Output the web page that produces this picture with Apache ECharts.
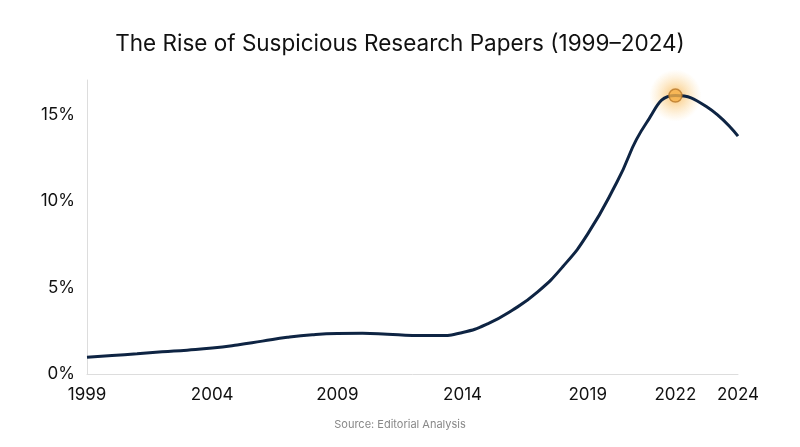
<!DOCTYPE html>
<html>
<head>
<meta charset="utf-8">
<script src="https://cdn.jsdelivr.net/npm/echarts@6/dist/echarts.min.js"></script>
<style>
  html, body { margin: 0; padding: 0; background: #fff; }
  #chart { width: 800px; height: 447px; }
</style>
</head>
<body>
<div id="chart"></div>
<script>
// 数据
var years = [1999, 2000, 2001, 2002, 2003, 2004, 2005, 2006, 2007, 2008, 2009, 2010, 2011,
             2012, 2013, 2014, 2015, 2016, 2017, 2018, 2019, 2020, 2021, 2022, 2023, 2024];
var shares = [0.97, 1.07, 1.17, 1.28, 1.38, 1.5, 1.68, 1.9, 2.12, 2.27, 2.34, 2.35, 2.3,
              2.23, 2.22, 2.4, 2.9, 3.7, 4.75, 6.2, 8.1, 11.1, 14.5, 16.1, 15.45, 13.75];
var tickYears = [1999, 2004, 2009, 2014, 2019, 2022, 2024];
var peakYear = 2022;
var peakValue = 16.1;

// x轴在2019年后间距不均匀，按原图做分段映射
function yearPos(y) {
  if (y <= 2019) return y - 1999;
  if (y <= 2022) return 20 + (y - 2019) * 3.5 / 3;
  return 23.5 + (y - 2022) * 1.25;
}

function echarts_main() {
  var myChart = echarts.init(document.getElementById('chart'));
  var lineData = years.map(function (y, i) { return [yearPos(y), shares[i]]; });
  var tickPos = tickYears.map(yearPos);
  var peak = [[yearPos(peakYear), peakValue]];

  var option = {
    animation: false,
    title: {
      text: 'The Rise of Suspicious Research Papers (1999\u20132024)',
      left: 'center',
      top: 28,
      textStyle: { fontFamily: 'Inter', fontSize: 22.5, fontWeight: 'normal', color: '#111' }
    },
    graphic: [{
      type: 'text',
      left: 'center',
      top: 419,
      style: { text: 'Source: Editorial Analysis', font: '11px Inter', fill: '#888' }
    }],
    grid: { left: 87, right: 62, top: 80, bottom: 73, containLabel: false },
    xAxis: {
      type: 'value',
      min: 0,
      max: 26,
      splitLine: { show: false },
      axisTick: { show: false },
      axisLine: { show: true, lineStyle: { color: '#dddddd', width: 1 } },
      axisLabel: {
        customValues: tickPos,
        margin: 12,
        fontFamily: 'Inter',
        fontSize: 17,
        color: '#111',
        formatter: function (v) {
          for (var i = 0; i < tickPos.length; i++) {
            if (Math.abs(tickPos[i] - v) < 0.01) return String(tickYears[i]);
          }
          return '';
        }
      }
    },
    yAxis: {
      type: 'value',
      min: 0,
      max: 17,
      interval: 5,
      splitLine: { show: false },
      axisTick: { show: false },
      axisLine: { show: true, lineStyle: { color: '#dddddd', width: 1 } },
      axisLabel: {
        showMaxLabel: false,
        margin: 12,
        fontFamily: 'Inter',
        fontSize: 17,
        color: '#111',
        formatter: '{value}%'
      }
    },
    series: [
      {
        // 光晕
        type: 'scatter',
        data: peak,
        symbolSize: 52,
        z: 1,
        silent: true,
        itemStyle: {
          color: new echarts.graphic.RadialGradient(0.5, 0.5, 0.5, [
            { offset: 0, color: 'rgba(247, 165, 45, 0.85)' },
            { offset: 0.45, color: 'rgba(248, 180, 70, 0.45)' },
            { offset: 1, color: 'rgba(250, 200, 110, 0)' }
          ])
        }
      },
      {
        type: 'line',
        data: lineData,
        smooth: 0.5,
        symbol: 'none',
        z: 2,
        lineStyle: { color: '#0e2443', width: 3 }
      },
      {
        type: 'scatter',
        data: peak,
        symbolSize: 13,
        z: 5,
        itemStyle: {
          color: '#f6b14a',
          borderColor: '#b8782a',
          borderWidth: 1.5
        }
      }
    ]
  };

  myChart.clear();
  myChart.setOption(option);
  window.addEventListener('resize', function () {
    myChart.resize();
  });
}
echarts_main();
</script>
</body>
</html>
